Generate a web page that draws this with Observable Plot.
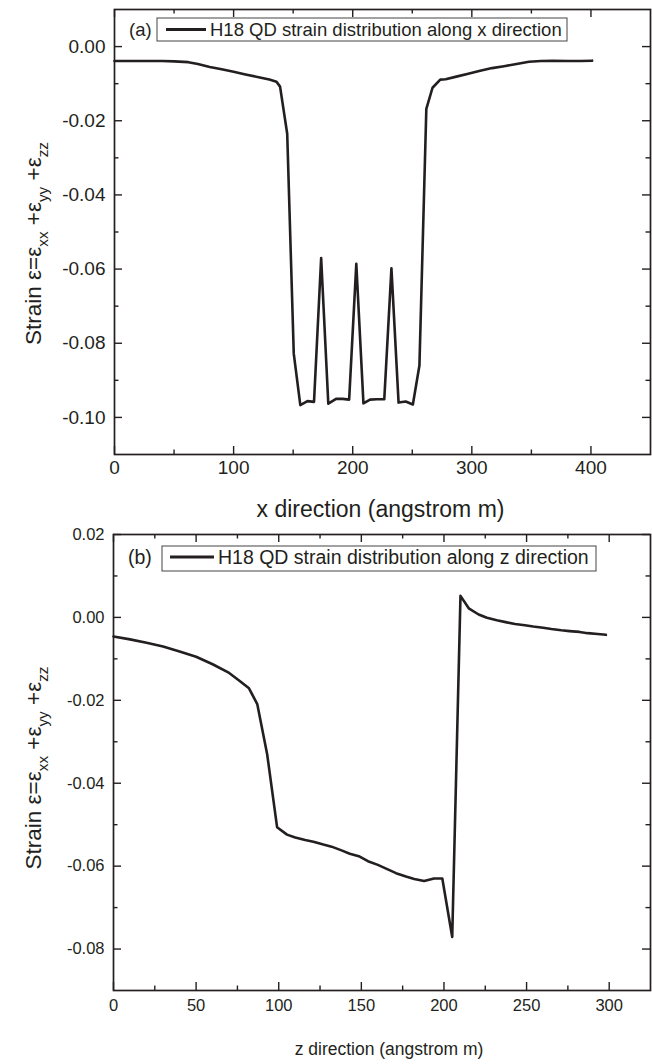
<!DOCTYPE html>
<html><head><meta charset="utf-8">
<script src="https://cdn.jsdelivr.net/npm/d3@7"></script>
<script src="https://cdn.jsdelivr.net/npm/@observablehq/plot@0.6"></script>
<style>
body{margin:0;background:#fff;width:652px;height:1064px;overflow:hidden;font-family:"Liberation Sans",Arial,sans-serif}
#a{position:absolute;left:0;top:0}
#b{position:absolute;left:0;top:525px}
</style></head><body><div id="a"></div><div id="b"></div>
<script>
// Panel (a): strain along x direction
const xA = [0, 10, 20, 30, 40, 50, 62, 70, 80, 90, 100, 110, 120, 130, 136, 139, 145, 150.5, 156, 162, 167.5, 173.5, 179.5, 186, 191.5, 197, 203, 209, 214.5, 220, 226.5, 232.5, 238.5, 244.5, 250.5, 256, 261.8, 267, 273.5, 278, 287, 297, 307, 317, 327, 334, 341, 348, 358, 368, 381, 391, 401];
const yA = [-0.0039, -0.0039, -0.0039, -0.0039, -0.0039, -0.0040, -0.0042, -0.0047, -0.0055, -0.0061, -0.0068, -0.0075, -0.0082, -0.0089, -0.0095, -0.0108, -0.0235, -0.0828, -0.0967, -0.0956, -0.0958, -0.0570, -0.0963, -0.0950, -0.0950, -0.0952, -0.0586, -0.0962, -0.0952, -0.0951, -0.0951, -0.0598, -0.0960, -0.0957, -0.0965, -0.0860, -0.0168, -0.0111, -0.0089, -0.0088, -0.0081, -0.0073, -0.0065, -0.0058, -0.0053, -0.0049, -0.0045, -0.0041, -0.0039, -0.0038, -0.0039, -0.0039, -0.0038];
const xMajorA = [0, 100, 200, 300, 400];
const xMinorA = [50, 150, 250, 350];
const yMajorA = [0, -0.02, -0.04, -0.06, -0.08, -0.10];
const yMinorA = [-0.01, -0.03, -0.05, -0.07, -0.09];
const legendA = "H18 QD strain distribution along x direction";
const xTitleA = "x direction (angstrom m)";

// Panel (b): strain along z direction
const xB = [0, 10, 20, 30, 40, 50, 60, 70, 76, 82, 87, 93, 99, 105, 110, 116, 121, 127, 132, 138, 143, 149, 154, 160, 165, 171, 177, 182, 188, 194, 199, 205, 210, 215, 221, 226, 232, 238, 243, 249, 254, 260, 265, 271, 276, 282, 287, 293, 298];
const yB = [-0.0046, -0.0053, -0.0061, -0.0070, -0.0082, -0.0095, -0.0113, -0.0134, -0.0152, -0.0171, -0.0209, -0.0330, -0.0506, -0.0524, -0.0531, -0.0537, -0.0541, -0.0548, -0.0553, -0.0562, -0.0570, -0.0577, -0.0588, -0.0597, -0.0606, -0.0617, -0.0625, -0.0631, -0.0636, -0.0630, -0.0630, -0.0771, 0.0052, 0.0022, 0.0007, -0.0001, -0.0007, -0.0012, -0.0016, -0.0019, -0.0022, -0.0025, -0.0028, -0.0031, -0.0033, -0.0035, -0.0038, -0.0040, -0.0042];
const xMajorB = [0, 50, 100, 150, 200, 250, 300];
const xMinorB = [25, 75, 125, 175, 225, 275];
const yMajorB = [0.02, 0, -0.02, -0.04, -0.06, -0.08];
const yMinorB = [0.01, -0.01, -0.03, -0.05, -0.07];
const legendB = "H18 QD strain distribution along z direction";
const xTitleB = "z direction (angstrom m)";

const FONT = '"Liberation Sans", Arial, sans-serif';
const ink = "#231f20";

function panel(o) {
  const ih = o.height - o.mt - o.mb, iw = 652 - o.ml - o.mr;
  const data = o.xs.map((x, i) => ({x, y: o.ys[i]}));
  const tk = {stroke: ink, strokeWidth: 1.4};
  const plot = Plot.plot({
    width: 652, height: o.height,
    marginTop: o.mt, marginBottom: o.mb, marginLeft: o.ml, marginRight: o.mr,
    style: {fontFamily: FONT, background: "white", color: ink, overflow: "visible"},
    x: {domain: o.xDomain, label: null},
    y: {domain: o.yDomain, label: null},
    marks: [
      Plot.tickX(o.xMajor, {x: d => d, insetTop: ih - 8, ...tk}),
      Plot.tickX(o.xMajor, {x: d => d, insetBottom: ih - 8, ...tk}),
      Plot.tickX(o.xMinor, {x: d => d, insetTop: ih - 4.5, ...tk}),
      Plot.tickX(o.xMinor, {x: d => d, insetBottom: ih - 4.5, ...tk}),
      Plot.tickY(o.yMajor, {y: d => d, insetRight: iw - 8, ...tk}),
      Plot.tickY(o.yMajor, {y: d => d, insetLeft: iw - 8, ...tk}),
      Plot.tickY(o.yMinor, {y: d => d, insetRight: iw - 4.5, ...tk}),
      Plot.tickY(o.yMinor, {y: d => d, insetLeft: iw - 4.5, ...tk}),
      Plot.line(data, {x: "x", y: "y", stroke: ink, strokeWidth: 2.6}),
      Plot.frame({stroke: ink, strokeWidth: 1.7}),
      Plot.axisX(o.xMajor, {tickSize: 0, tickPadding: o.xPad, fontSize: o.tickFs, tickFormat: d => String(d), label: null, fill: ink}),
      Plot.axisY(o.yMajor, {tickSize: 0, tickPadding: o.yPad, fontSize: o.tickFs, tickFormat: d => d.toFixed(2), label: null, fill: ink}),
      Plot.text([o.xTitle], {text: d => d, frameAnchor: "bottom", dx: o.titleDx, dy: o.titleDy, fontSize: o.titleFs, fill: ink})
    ]
  });
  const svg = d3.select(plot);
  // y-axis title with subscripts
  const fs = o.yTitleFs;
  const t = svg.append("text")
    .attr("transform", `translate(${o.yTitleX},${o.mt + ih / 2 + o.yTitleOff}) rotate(-90)`)
    .attr("text-anchor", "middle").attr("font-size", fs).attr("fill", ink).attr("font-family", FONT);
  const parts = [["Strain ε=ε", false], ["xx", true], [" +ε", false], ["yy", true], [" +ε", false], ["zz", true]];
  parts.forEach(([s, sub], i) => {
    t.append("tspan").attr("dy", i === 0 ? 0 : (sub ? fs * 0.3 : -fs * 0.3))
      .attr("font-size", sub ? fs * 0.68 : fs).text(s);
  });
  // legend
  const L = o.legend;
  svg.append("rect").attr("x", L.boxX).attr("y", L.boxY).attr("width", L.boxW).attr("height", L.boxH)
    .attr("fill", "white").attr("stroke", "#444").attr("stroke-width", 1);
  svg.append("line").attr("x1", L.lx1).attr("x2", L.lx2).attr("y1", L.ly).attr("y2", L.ly)
    .attr("stroke", ink).attr("stroke-width", 3);
  svg.append("text").attr("x", L.tagX).attr("y", L.base).attr("text-anchor", "start").attr("font-size", L.fs)
    .attr("fill", ink).attr("font-family", FONT).text(o.tag);
  svg.append("text").attr("x", L.tx).attr("y", L.base).attr("text-anchor", "start").attr("font-size", L.fs)
    .attr("fill", ink).attr("font-family", FONT).text(o.legendText);
  return plot;
}

document.getElementById("a").append(panel({
  xs: xA, ys: yA, xDomain: [0, 450], yDomain: [-0.11, 0.01],
  xMajor: xMajorA, xMinor: xMinorA, yMajor: yMajorA, yMinor: yMinorA,
  height: 525, mt: 9, mb: 71, ml: 114, mr: 2,
  tickFs: 19, xPad: 6, yPad: 9, xTitle: xTitleA, titleFs: 23, titleDx: -2, titleDy: 62,
  yTitleX: 41, yTitleFs: 22.5, yTitleOff: 12, tag: "(a)", legendText: legendA,
  legend: {fs: 18.5, tagX: 129, base: 36, boxX: 157, boxY: 18, boxW: 410, boxH: 23, lx1: 166, lx2: 206, ly: 29.5, tx: 210}
}));
document.getElementById("b").append(panel({
  xs: xB, ys: yB, xDomain: [0, 325], yDomain: [-0.09, 0.02],
  xMajor: xMajorB, xMinor: xMinorB, yMajor: yMajorB, yMinor: yMinorB,
  height: 539, mt: 9, mb: 74, ml: 113, mr: 2,
  tickFs: 16.5, xPad: 9, yPad: 9, xTitle: xTitleB, titleFs: 17.5, titleDx: 7, titleDy: 64,
  yTitleX: 41, yTitleFs: 22.5, yTitleOff: 6, tag: "(b)", legendText: legendB,
  legend: {fs: 19.5, tagX: 128, base: 39, boxX: 162, boxY: 21, boxW: 434, boxH: 25, lx1: 170, lx2: 214, ly: 32, tx: 218}
}));
</script>
</body></html>
